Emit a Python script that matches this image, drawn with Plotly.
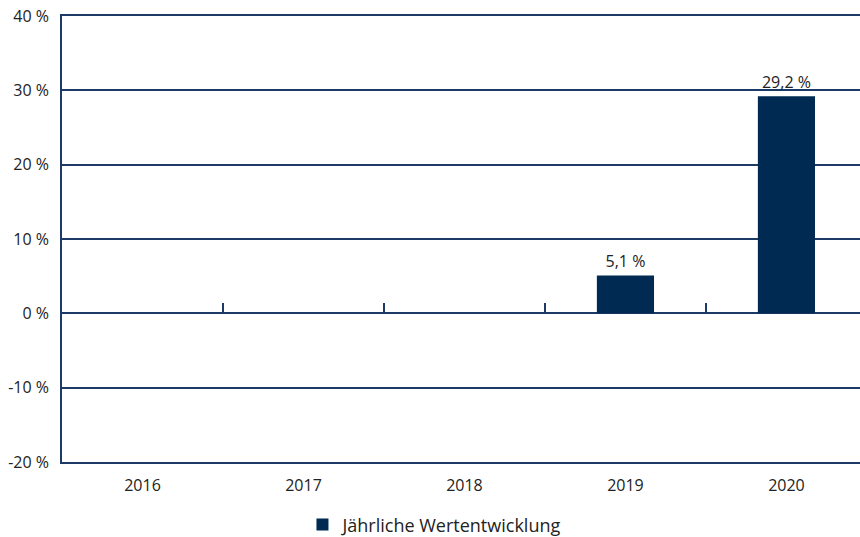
import plotly.graph_objects as go

years = ["2016", "2017", "2018", "2019", "2020"]
values = [0, 0, 0, 5.1, 29.2]
y_ticks = [-20, -10, 0, 10, 20, 30, 40]
y_tick_labels = [f"{v} %" for v in y_ticks]
boundaries = [0.5, 1.5, 2.5, 3.5]
series_name = "Jährliche Wertentwicklung"

labels = [("" if v == 0 else f"{v:.1f}".replace(".", ",") + " %") for v in values]

navy = "#1d3a66"
bar_color = "#002a52"
font = "Open Sans"

fig = go.Figure()
fig.add_trace(go.Bar(
    x=years, y=values, name=series_name, marker_color=bar_color,
    marker_line_width=0, showlegend=True,
    width=0.355, text=labels, textposition="outside", cliponaxis=False,
    textfont=dict(family=font, size=16, color="#222"),
))
fig.add_trace(go.Scatter(x=[], y=[], xaxis="x2", yaxis="y", showlegend=False, hoverinfo="skip"))

fig.update_layout(
    width=860, height=537,
    margin=dict(l=62, r=0, t=16, b=75, autoexpand=False),
    paper_bgcolor="white", plot_bgcolor="white",
    font=dict(family=font, size=15, color="#222"),
    showlegend=True,
    xaxis=dict(type="category", range=[-0.5, 4.457], showgrid=False, ticks="",
               showline=True, mirror=True, linecolor=navy, linewidth=1.5,
               zeroline=False, tickfont=dict(size=16), automargin=False,
               ticklabelstandoff=8),
    xaxis2=dict(overlaying="x", anchor="free", position=1/3, range=[-0.5, 4.457],
                tickvals=boundaries, ticks="inside", ticklen=10, tickwidth=1.5,
                tickcolor=navy, showticklabels=False, showgrid=False,
                showline=False, zeroline=False, automargin=False),
    yaxis=dict(range=[-20, 40], tickvals=y_ticks, ticktext=y_tick_labels,
               showgrid=True, gridcolor=navy, gridwidth=1.5, zeroline=False,
               showline=True, linecolor=navy, linewidth=1.5, ticks="",
               ticklabelstandoff=8, tickfont=dict(size=16), automargin=False),
    legend=dict(orientation="h", x=0.468, xanchor="center", y=-0.141, yanchor="middle",
                font=dict(size=18)),
    bargap=0.6,
)

fig.write_html("out.html", config={"displayModeBar": False},
               post_script="document.body.style.margin='0';document.body.style.overflow='hidden';")
